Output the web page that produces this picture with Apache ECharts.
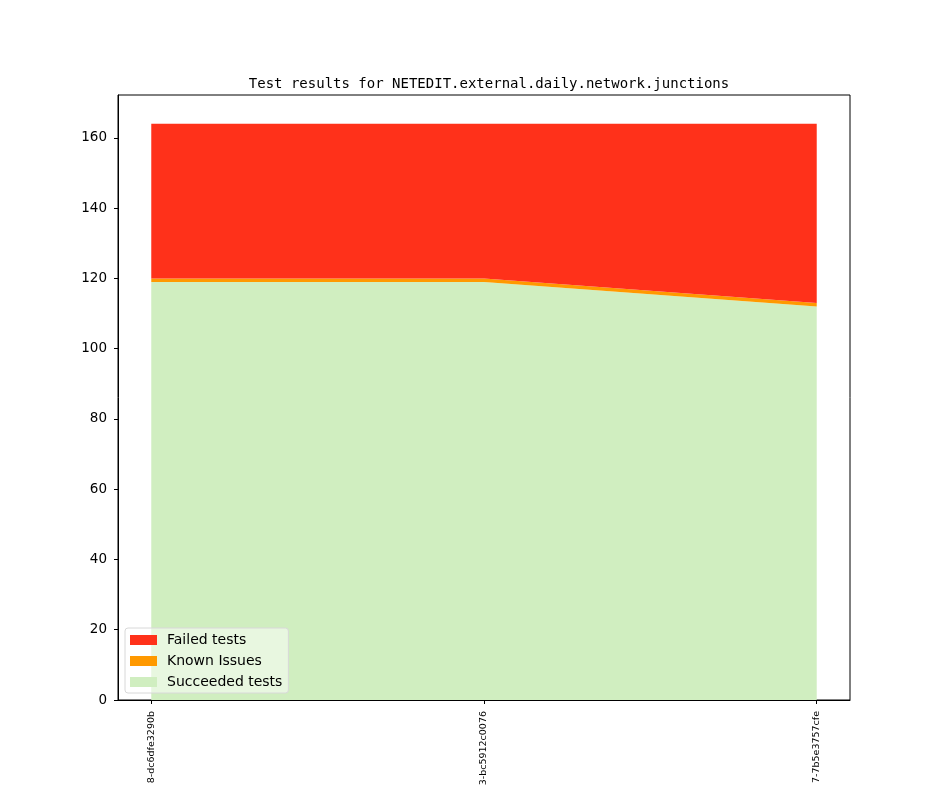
<!DOCTYPE html>
<html>
<head>
<meta charset="utf-8">
<script src="https://cdn.jsdelivr.net/npm/echarts@6/dist/echarts.min.js"></script>
<style>
  html, body { margin: 0; padding: 0; background: #fff; }
  #box1 { width: 944px; height: 787px; }
</style>
</head>
<body>
<div id="box1"></div>
<script>
var revisions = ['8-dc6dfe3290b', '3-bc5912c0076', '7-7b5e3757cfe']
var succeeded = [119, 119, 112]
var knownIssues = [1, 1, 1]
var failed = [44, 44, 51]
var yTicks = [0, 20, 40, 60, 80, 100, 120, 140, 160]

// value first so the stack runs on y
function pts(arr) {
    return arr.map(function (v, i) { return [v, i] })
}

var first = echarts.init(document.getElementById('box1'))
var font = 'DejaVu Sans'
var option = {
    animation: false,
    title: {
        text: 'Test results for NETEDIT.external.daily.network.junctions',
        left: 484,
        textAlign: 'center',
        top: 72,
        textStyle: {
            fontFamily: 'DejaVu Sans Mono',
            fontSize: 14,
            fontWeight: 'normal',
            color: '#000'
        }
    },
    legend: {
        data: ['Failed tests', 'Known Issues', 'Succeeded tests'],
        orient: 'vertical',
        left: 125,
        bottom: 94,
        icon: 'rect',
        itemWidth: 27,
        itemHeight: 10,
        itemGap: 7,
        padding: [5, 6, 4, 5],
        backgroundColor: 'rgba(255,255,255,0.5)',
        borderColor: '#d8d8d8',
        borderWidth: 1,
        borderRadius: 3,
        textStyle: { fontFamily: font, fontSize: 14, color: '#000', padding: [0, 0, 0, 5] }
    },
    grid: {
        left: 118,
        right: 94,
        top: 95,
        bottom: 87,
        outerBoundsMode: 'none',
        containLabel: false,
        show: true,
        borderColor: '#000',
        borderWidth: 1
    },
    xAxis: {
        type: 'value',
        min: -0.1,
        max: 2.1,
        splitLine: { show: false },
        axisLine: { onZero: false, lineStyle: { color: '#000' } },
        axisTick: { customValues: [0, 1, 2], length: 4, lineStyle: { color: '#000' } },
        axisLabel: {
            customValues: [0, 1, 2],
            rotate: 90,
            margin: 11,
            fontFamily: font,
            fontSize: 9.5,
            color: '#000',
            formatter: function (v) { return revisions[Math.round(v)] }
        }
    },
    yAxis: {
        type: 'value',
        min: 0,
        max: 172.2,
        splitLine: { show: false },
        axisLine: { show: true, onZero: false, lineStyle: { color: '#000' } },
        axisTick: { show: true, customValues: yTicks, length: 4, lineStyle: { color: '#000' } },
        axisLabel: {
            customValues: yTicks,
            margin: 11,
            fontFamily: font,
            fontSize: 13.5,
            color: '#000'
        }
    },
    series: [
        {
            name: 'Succeeded tests',
            color: '#d0eec0',
            areaStyle: { color: '#d0eec0', opacity: 1 },
            data: pts(succeeded)
        },
        {
            name: 'Known Issues',
            color: '#ff9900',
            areaStyle: { color: '#ff9900', opacity: 1 },
            data: pts(knownIssues)
        },
        {
            name: 'Failed tests',
            color: '#ff311a',
            areaStyle: { color: '#ff311a', opacity: 1 },
            data: pts(failed)
        }
    ].map(function (s) {
        s.type = 'line'
        s.stack = 'total'
        s.showSymbol = false
        s.lineStyle = { width: 0 }
        s.encode = { x: 1, y: 0 }
        return s
    })
}
first.setOption(option)
</script>
</body>
</html>
